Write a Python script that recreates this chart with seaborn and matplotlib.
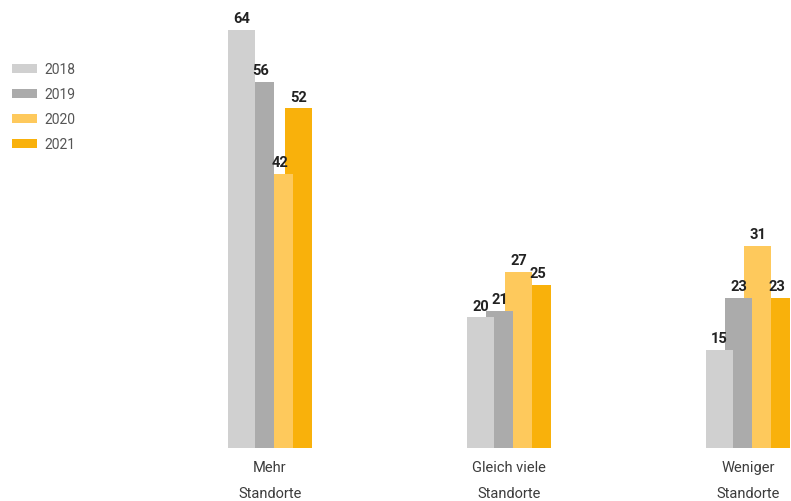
import pandas as pd
import matplotlib
matplotlib.use('Agg')
import matplotlib.pyplot as plt
from matplotlib.patches import Patch
import seaborn as sns

# Daten
kategorien = ['Mehr\nStandorte', 'Gleich viele\nStandorte', 'Weniger\nStandorte']
jahre = ['2018', '2019', '2020', '2021']
werte_2018 = [64, 20, 15]
werte_2019 = [56, 21, 23]
werte_2020 = [42, 27, 31]
werte_2021 = [52, 25, 23]
farben = ['#d0d0d0', '#ababab', '#fec95c', '#f9b10b']

werte = [werte_2018, werte_2019, werte_2020, werte_2021]
rows = []
for j, jahr in enumerate(jahre):
    for i, kat in enumerate(kategorien):
        rows.append({'kategorie': kat, 'idx': i, 'jahr': jahr, 'wert': werte[j][i]})
df = pd.DataFrame(rows)

sns.set_style('white')
plt.rcParams['font.family'] = ['Roboto', 'DejaVu Sans']

fig = plt.figure(figsize=(7.91, 5.02), dpi=100)
ax = fig.add_axes([0, 53 / 502, 1, 449 / 502])

# ueberlappende Balken: 2021 hinten, 2018 vorne
breite = 0.117
schritt = 0.0795
for j in reversed(range(len(jahre))):
    sub = df[df['jahr'] == jahre[j]].copy()
    sub['pos'] = sub['idx'] + (j - 1.5) * schritt
    sns.barplot(data=sub, x='pos', y='wert', native_scale=True, width=breite,
                color=farben[j], saturation=1, errorbar=None, linewidth=0,
                zorder=10 - j, ax=ax)
    ax.bar_label(ax.containers[-1], padding=3.5, fontsize=10.5, fontweight='bold',
                 color='#222222', zorder=20)

ax.set_xlim(-270 / 239, (791 - 270) / 239)
ax.set_ylim(0, 449 / 6.53)
ax.set_xticks(range(len(kategorien)))
ax.set_xticklabels(kategorien, fontsize=10.5, color='#3c3c3c', linespacing=2.05)
ax.tick_params(axis='x', length=0, pad=9)
ax.set_yticks([])
ax.set_xlabel('')
ax.set_ylabel('')
sns.despine(ax=ax, left=True, bottom=True)

handles = [Patch(facecolor=c, edgecolor='none', label=l) for c, l in zip(farben, jahre)]
fig.legend(handles=handles, loc='upper left', bbox_to_anchor=(12 / 791, 1 - 63 / 502),
           frameon=False, fontsize=10, labelcolor='#555555', handlelength=1.8,
           handleheight=0.6, handletextpad=0.5, labelspacing=0.8, borderaxespad=0,
           borderpad=0)

fig.savefig('out.png', dpi=100)
